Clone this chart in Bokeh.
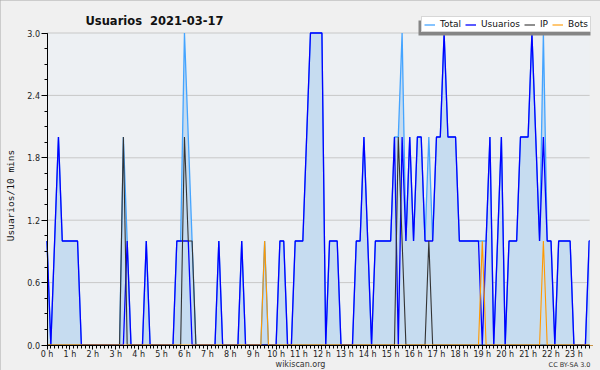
import math
from bokeh.plotting import figure
from bokeh.models import Range1d, FixedTicker, PrintfTickFormatter, Legend, BoxAnnotation
from bokeh.core.properties import value
from bokeh.embed import file_html
from bokeh.resources import INLINE

# ---------------- data (one value per 10 minutes, 144 slots) ----------------
title_text = "Usuarios \u00a02021-03-17"
y_label = "Usuarios/10 mins"
footer_left = "wikiscan.org"
footer_right = "CC BY-SA 3.0"
series_names = ["Total", "Usuarios", "IP", "Bots"]
hour_labels = ["0 h", "1 h", "2 h", "3 h", "4 h", "5 h", "6 h", "7 h", "8 h",
               "9 h", "10 h", "11 h", "12 h", "13 h", "14 h", "15 h", "16 h",
               "17 h", "18 h", "19 h", "20 h", "21 h", "22 h", "23 h"]
y_ticks = [0.0, 0.6, 1.2, 1.8, 2.4, 3.0]

usuarios = [1, 0, 1, 2, 1, 1, 1, 1, 1, 0, 0, 0,
            0, 0, 0, 0, 0, 0, 0, 0, 0, 1, 0, 0,
            0, 0, 1, 0, 0, 0, 0, 0, 0, 0, 1, 1,
            1, 1, 0, 0, 0, 0, 0, 0, 0, 1, 0, 0,
            0, 0, 0, 1, 0, 0, 0, 0, 0, 0, 0, 0,
            0, 1, 1, 0, 0, 1, 1, 1, 2, 3, 3, 3,
            3, 0, 1, 1, 1, 0, 0, 0, 0, 1, 1, 2,
            1, 0, 1, 1, 1, 1, 1, 2, 0, 2, 1, 2,
            1, 2, 2, 1, 1, 1, 2, 2, 3, 2, 2, 2,
            1, 1, 1, 1, 1, 1, 0, 1, 2, 0, 1, 2,
            0, 1, 1, 1, 2, 2, 2, 3, 2, 1, 2, 1,
            1, 0, 1, 1, 1, 1, 0, 0, 0, 0, 1, 1]

ip = [0, 0, 0, 0, 0, 0, 0, 0, 0, 0, 0, 0,
      0, 0, 0, 0, 0, 0, 0, 0, 2, 0, 0, 0,
      0, 0, 0, 0, 0, 0, 0, 0, 0, 0, 0, 0,
      2, 1, 1, 0, 0, 0, 0, 0, 0, 0, 0, 0,
      0, 0, 0, 0, 0, 0, 0, 0, 0, 0, 0, 0,
      0, 0, 0, 0, 0, 0, 0, 0, 0, 0, 0, 0,
      0, 0, 0, 0, 0, 0, 0, 0, 0, 0, 0, 0,
      0, 0, 0, 0, 0, 0, 0, 0, 2, 1, 0, 0,
      0, 0, 0, 0, 1, 0, 0, 0, 0, 0, 0, 0,
      0, 0, 0, 0, 0, 0, 0, 0, 0, 0, 0, 0,
      0, 0, 0, 0, 0, 0, 0, 0, 0, 0, 0, 0,
      0, 0, 0, 0, 0, 0, 0, 0, 0, 0, 0, 0]

bots = [0, 0, 0, 0, 0, 0, 0, 0, 0, 0, 0, 0,
        0, 0, 0, 0, 0, 0, 0, 0, 0, 0, 0, 0,
        0, 0, 0, 0, 0, 0, 0, 0, 0, 0, 0, 0,
        0, 0, 0, 0, 0, 0, 0, 0, 0, 0, 0, 0,
        0, 0, 0, 0, 0, 0, 0, 0, 0, 1, 0, 0,
        0, 0, 0, 0, 0, 0, 0, 0, 0, 0, 0, 0,
        0, 0, 0, 0, 0, 0, 0, 0, 0, 0, 0, 0,
        0, 0, 0, 0, 0, 0, 0, 0, 0, 0, 0, 0,
        0, 0, 0, 0, 0, 0, 0, 0, 0, 0, 0, 0,
        0, 0, 0, 0, 0, 0, 1, 0, 0, 0, 0, 0,
        0, 0, 0, 0, 0, 0, 0, 0, 0, 0, 1, 0,
        0, 0, 0, 0, 0, 0, 0, 0, 0, 0, 0, 0]

total = [1, 0, 1, 2, 1, 1, 1, 1, 1, 0, 0, 0,
         0, 0, 0, 0, 0, 0, 0, 0, 2, 1, 0, 0,
         0, 0, 1, 0, 0, 0, 0, 0, 0, 0, 1, 1,
         3, 2, 1, 0, 0, 0, 0, 0, 0, 1, 0, 0,
         0, 0, 0, 1, 0, 0, 0, 0, 0, 1, 0, 0,
         0, 1, 1, 0, 0, 1, 1, 1, 2, 3, 3, 3,
         3, 0, 1, 1, 1, 0, 0, 0, 0, 1, 1, 2,
         1, 0, 1, 1, 1, 1, 1, 2, 2, 3, 1, 2,
         1, 2, 2, 1, 2, 1, 2, 2, 3, 2, 2, 2,
         1, 1, 1, 1, 1, 1, 1, 1, 2, 0, 1, 2,
         0, 1, 1, 1, 2, 2, 2, 3, 2, 1, 3, 1,
         1, 0, 1, 1, 1, 1, 0, 0, 0, 0, 1, 1]

hours = [k * 10 / 60 for k in range(len(total))]   # slot start, in hours

# ---------------- style / layout ----------------
OUTER = "#f0f0f0"
PLOT_BG = "#edf0f3"
FILL = "#c6dcf0"
C_TOTAL = "#44a4ff"
C_USU = "#0000ff"
C_IP = "#333333"
C_BOTS = "#ff9900"
GRID = "#c8c8c8"
TXT = "#111111"

W, H = 600, 370
X0_PX, PX_H = 46.5, 22.91     # canvas x of 0 h, px per hour
Y0_PX, PX_U = 344.5, 104.0    # canvas y of 0 users, px per user


def dx(px):
    return (px - X0_PX) / PX_H


def dy(py):
    return (Y0_PX - py) / PX_U


X_DATA_END = dx(589.3)

# the frame covers the whole canvas so that no text gets clipped
p = figure(width=W, height=H, output_backend="svg", toolbar_location=None,
           title=None, x_range=Range1d(dx(0), dx(W)), y_range=Range1d(dy(H), dy(0)),
           min_border=0, background_fill_color=OUTER, border_fill_color=OUTER,
           outline_line_color=None)
p.styles = {"outline": "1px solid #a8a8a8", "outline-offset": "-1px"}

# plot-area background
p.add_layout(BoxAnnotation(left=0, right=X_DATA_END, bottom=0, top=3,
                           fill_color=PLOT_BG, fill_alpha=1, line_color=None,
                           level="image"))

p.xgrid.visible = False
p.ygrid.visible = False
p.segment(x0=[0] * 5, y0=y_ticks[1:], x1=[X_DATA_END] * 5, y1=y_ticks[1:],
          line_color=GRID, line_width=1, level="underlay")

# axes, drawn at the data origin
for ax in (p.xaxis[0], p.yaxis[0]):
    ax.fixed_location = 0
    ax.axis_line_color = "black"
    ax.major_tick_line_color = "black"
    ax.minor_tick_line_color = "black"
    ax.major_tick_in = 0
    ax.minor_tick_in = 0
    ax.major_label_text_font = "DejaVu Sans"
    ax.major_label_text_font_size = "8px"
    ax.major_label_text_color = "#222222"

p.yaxis.ticker = FixedTicker(ticks=y_ticks,
                             minor_ticks=[0.15 * k for k in range(21)])
p.yaxis.formatter = PrintfTickFormatter(format="%.1f")
p.yaxis.bounds = (0, 3)
p.yaxis.major_tick_out = 6
p.yaxis.minor_tick_out = 3
p.yaxis.major_label_standoff = 1

p.xaxis.ticker = FixedTicker(ticks=list(range(len(hour_labels))),
                             minor_ticks=hours[:-1])
p.xaxis.major_label_overrides = {h: lab for h, lab in enumerate(hour_labels)}
p.xaxis.bounds = (0, X_DATA_END)
p.xaxis.major_tick_out = 4
p.xaxis.minor_tick_out = 3
p.xaxis.major_label_standoff = 1

# series
p.varea(x=hours, y1=0, y2=total, fill_color=FILL, fill_alpha=1)
r_total = p.line(hours, total, line_color=C_TOTAL, line_width=1.3)
r_usu = p.line(hours, usuarios, line_color=C_USU, line_width=1.3)
r_ip = p.line(hours, ip, line_color=C_IP, line_width=1.1)
r_bots = p.line(hours, bots, line_color=C_BOTS, line_width=1.1)

# hide what lies past the right end of the time axis
p.add_layout(BoxAnnotation(left=X_DATA_END, bottom=0, top=3.05,
                           fill_color=OUTER, fill_alpha=1, line_color=None,
                           level="guide"))

# legend shadow + legend
p.add_layout(BoxAnnotation(left=dx(418), right=dx(590), top=dy(20), bottom=dy(35),
                           fill_color="#858585", fill_alpha=1, line_color=None,
                           level="guide"))
legend = Legend(items=[(series_names[0], [r_total]), (series_names[1], [r_usu]),
                       (series_names[2], [r_ip]), (series_names[3], [r_bots])],
                location=(421, H - 32), orientation="horizontal", margin=0,
                padding=2, spacing=4, glyph_width=11, glyph_height=9,
                label_height=9, label_width=0, label_standoff=5,
                label_text_font="DejaVu Sans", label_text_font_size="9px",
                label_text_color=TXT, border_line_color="#b0b0b0",
                background_fill_color="white", background_fill_alpha=1)
p.add_layout(legend)

# texts
p.text(x=[dx(85)], y=[dy(20.7)], text=[title_text],
       text_font=value("DejaVu Sans"), text_font_style=value("bold"),
       text_font_size=value("11.5px"), text_color=TXT,
       text_baseline=value("alphabetic"), text_align=value("left"))
p.text(x=[dx(10)], y=[dy(195)], text=[y_label], angle=math.pi / 2,
       text_font=value("DejaVu Sans Mono"), text_font_size=value("9.5px"),
       text_color=TXT, text_align=value("center"), text_baseline=value("middle"))
p.text(x=[dx(300)], y=[dy(363.5)], text=[footer_left],
       text_font=value("DejaVu Sans"), text_font_size=value("8px"),
       text_color="#333333", text_align=value("center"),
       text_baseline=value("alphabetic"))
p.text(x=[dx(590)], y=[dy(364.5)], text=[footer_right],
       text_font=value("DejaVu Sans"), text_font_size=value("6.5px"),
       text_color="#333333", text_align=value("right"),
       text_baseline=value("alphabetic"))

open("out.html", "w").write(file_html(p, INLINE))
